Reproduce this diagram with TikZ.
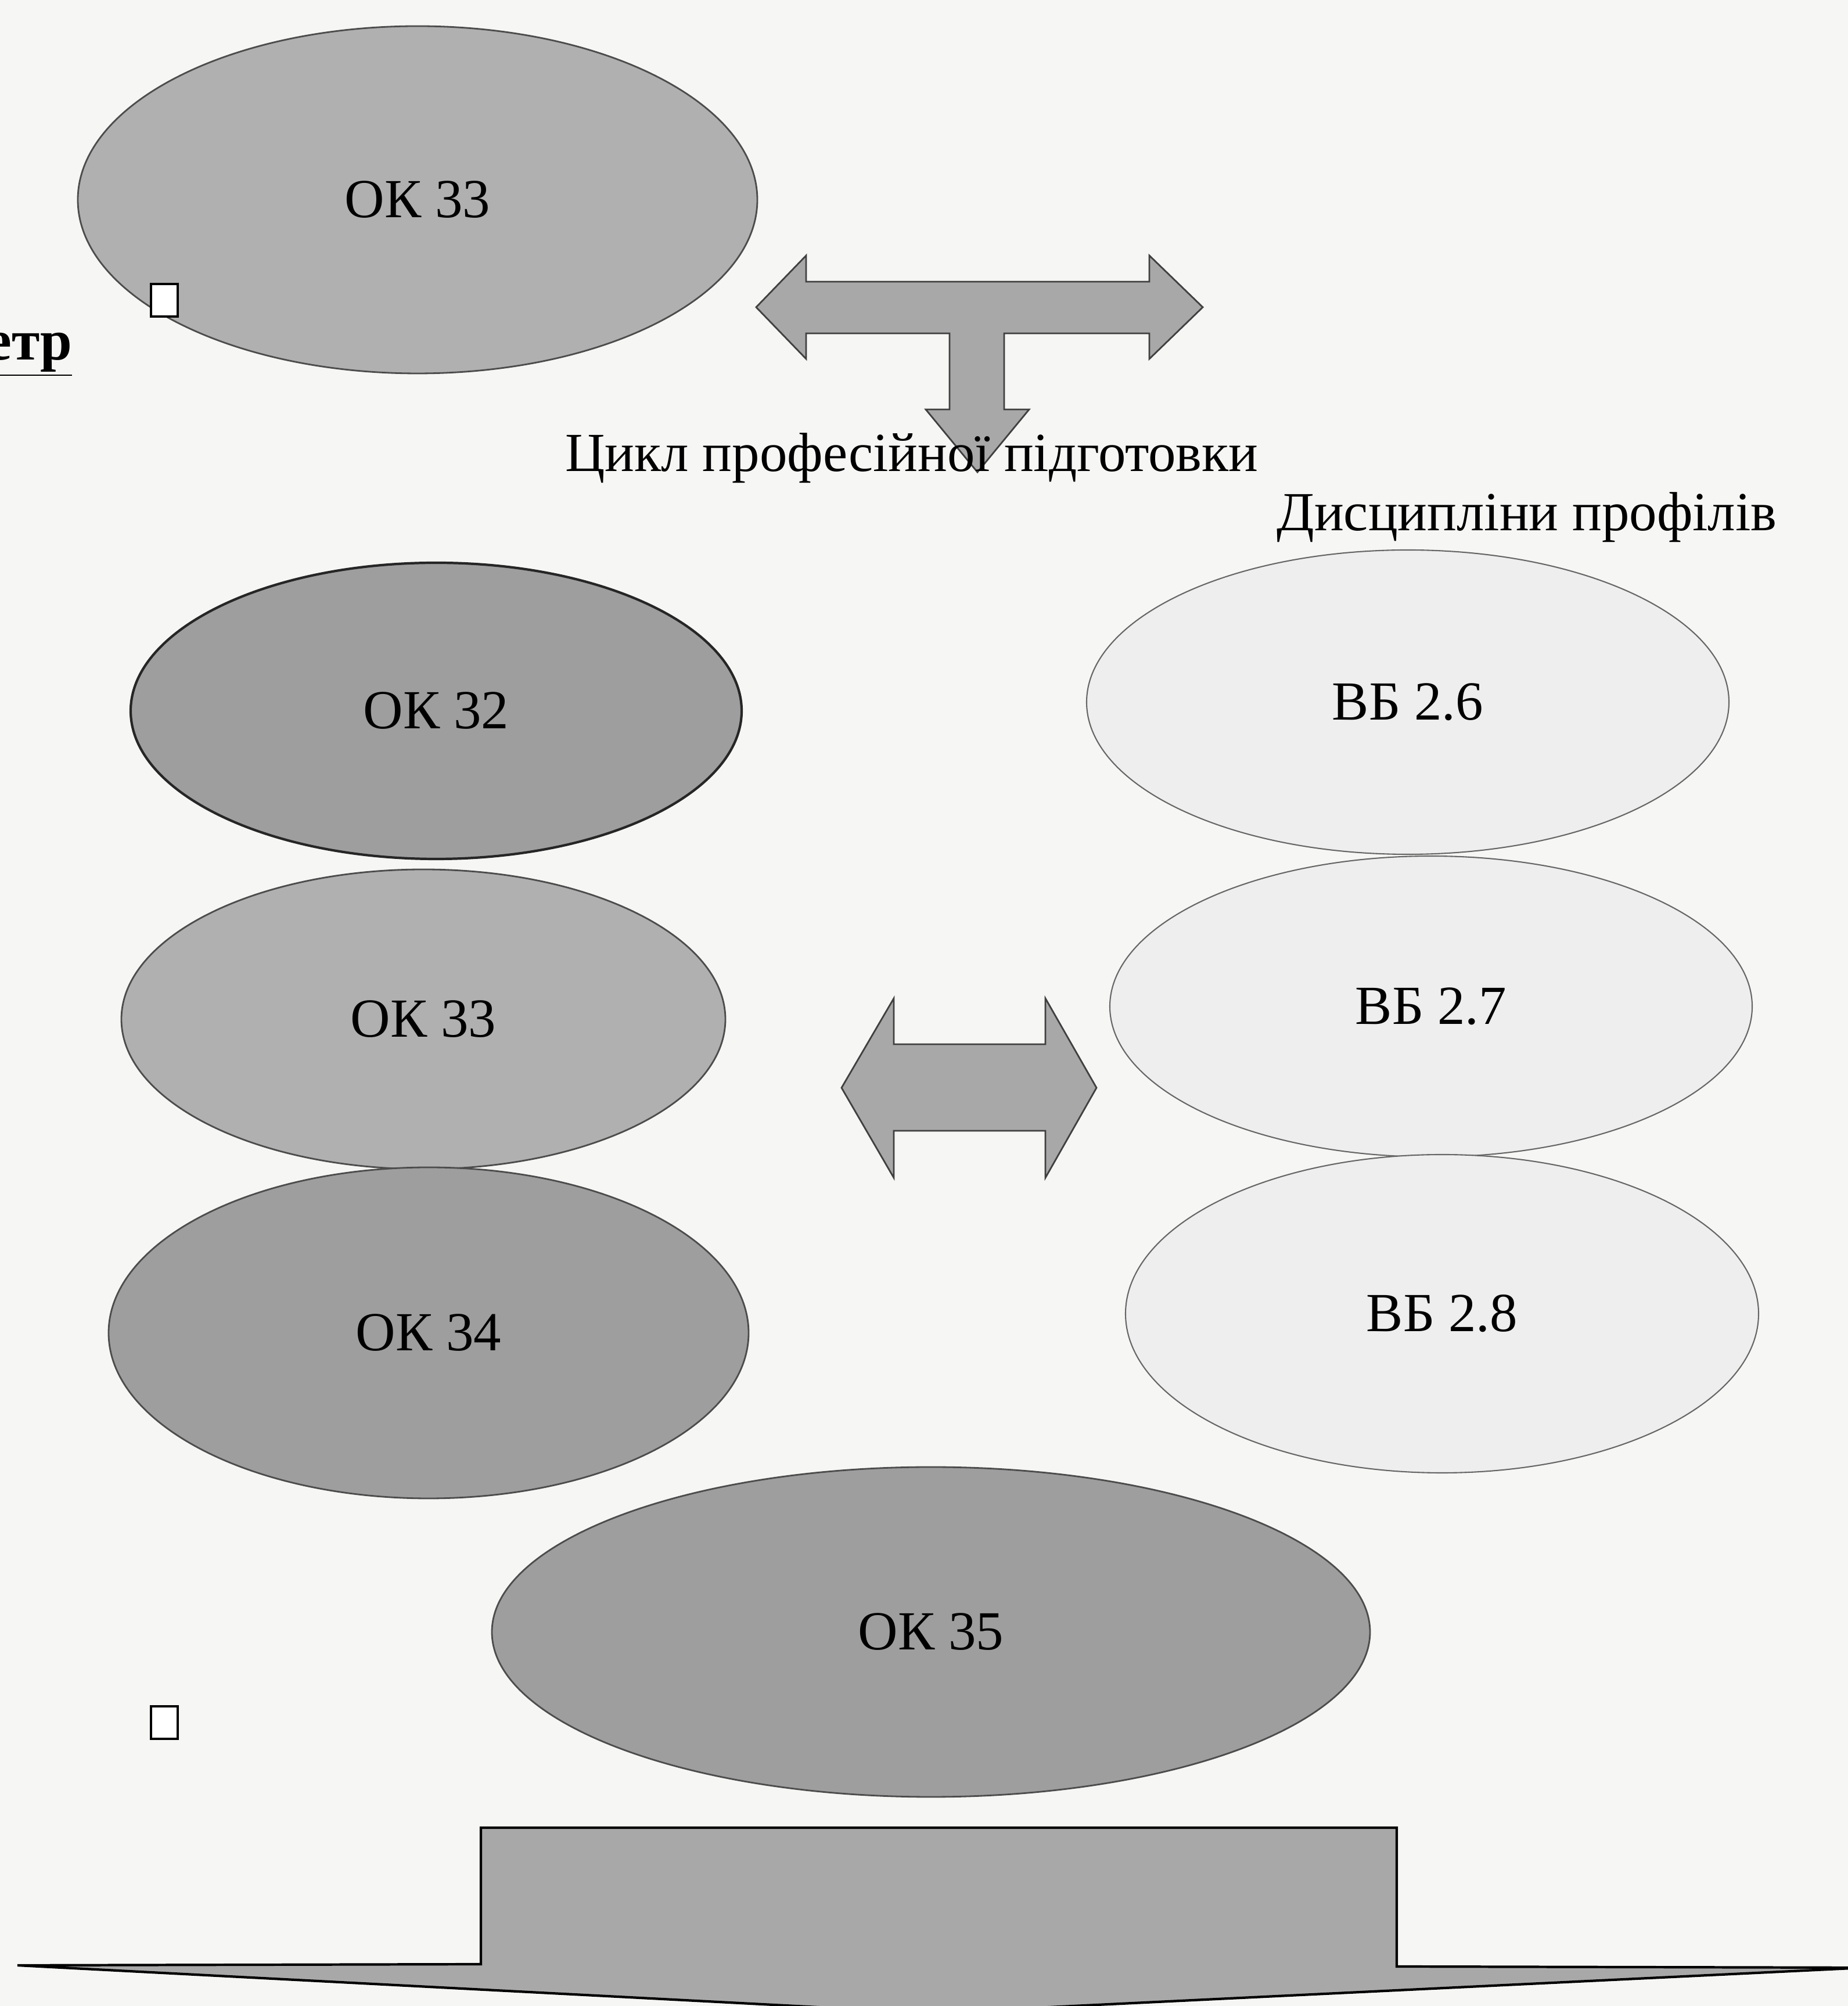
\documentclass[tikz,border=0pt]{standalone}
\usepackage{fontspec}
\setmainfont{Liberation Serif}
\usepackage{tikz}
\usetikzlibrary{%
	shapes.geometric,%
	calc
}
\definecolor{paper}{rgb}{0.965, 0.965, 0.955}
\definecolor{ok-gray}{gray}{0.69}
\definecolor{ok-dark}{gray}{0.62}
\definecolor{vb-light}{gray}{0.935}
\definecolor{arrow-gray}{gray}{0.66}

\begin{document}
\begin{tikzpicture}[
		every node/.style={font=\fontsize{27}{32}\selectfont},
		ok/.style={ellipse, draw=black!70, line width=0.8pt, fill=ok-gray, inner sep=0pt},
		vb/.style={ellipse, draw=black!60, line width=0.6pt, fill=vb-light, inner sep=0pt},
		tickbox/.style={rectangle, draw=black, line width=1.2pt, fill=white, inner sep=0pt, minimum width=0.46cm, minimum height=0.56cm},
		blockarrow/.style={draw=black!75, line width=0.8pt, fill=arrow-gray, line join=miter}
	]
		\fill[paper] (0,0) rectangle (31.82,34.54);
		\useasboundingbox (0,0) rectangle (31.82,34.54);

		% upper part
		\node[ok, minimum width=11.70cm, minimum height=5.98cm] (ok33top) at (7.19,31.10) {ОК 33};
		\node[tickbox] (box1) at (2.83,29.37) {};
		\node[anchor=base east, inner sep=0pt, font=\fontsize{28}{32}\selectfont\bfseries] (semestr) at (1.25,28.34) {\underline{етр}};

		\filldraw[blockarrow] (13.02,29.25) -- (13.88,30.14) -- (13.88,29.69) -- (19.79,29.69) -- (19.79,30.14)
			-- (20.71,29.25) -- (19.79,28.36) -- (19.79,28.80) -- (17.29,28.80) -- (17.29,27.49) -- (17.72,27.49)
			-- (16.83,26.41) -- (15.94,27.49) -- (16.35,27.49) -- (16.35,28.80) -- (13.88,28.80) -- (13.88,28.36) -- cycle;

		\node[anchor=base] (cycle) at (15.70,26.42) {Цикл професійної підготовки};
		\node[anchor=base] (profiles) at (26.29,25.40) {Дисципліни профілів};

		% left column
		\node[ok, fill=ok-dark, draw=black!85, line width=1.2pt, minimum width=10.52cm, minimum height=5.10cm] (ok32) at (7.51,22.30) {ОК 32};
		\node[ok, minimum width=10.40cm, minimum height=5.16cm] (ok33) at (7.29,16.99) {ОК 33};
		\node[ok, fill=ok-dark, minimum width=11.02cm, minimum height=5.70cm] (ok34) at (7.38,11.59) {ОК 34};

		% right column
		\node[vb, minimum width=11.06cm, minimum height=5.24cm] (vb26) at (24.24,22.45) {ВБ 2.6};
		\node[vb, minimum width=11.06cm, minimum height=5.18cm] (vb27) at (24.64,17.21) {ВБ 2.7};
		\node[vb, minimum width=10.90cm, minimum height=5.48cm] (vb28) at (24.83,11.92) {ВБ 2.8};

		\filldraw[blockarrow] (14.49,15.81) -- (15.39,17.35) -- (15.39,16.56) -- (18.00,16.56) -- (18.00,17.35)
			-- (18.88,15.81) -- (18.00,14.26) -- (18.00,15.07) -- (15.39,15.07) -- (15.39,14.26) -- cycle;

		\node[ok, fill=ok-dark, minimum width=15.12cm, minimum height=5.68cm] (ok35) at (16.03,6.44) {ОК 35};
		\node[tickbox] (box2) at (2.83,4.88) {};

		% bottom arrow
		\filldraw[blockarrow, draw=black, line width=1.2pt] (8.28,3.07) -- (24.05,3.07) -- (24.05,0.68) -- (32.10,0.66)
			-- (16.00,-0.12) -- (0.30,0.70) -- (8.28,0.72) -- cycle;
	\end{tikzpicture}
\end{document}
